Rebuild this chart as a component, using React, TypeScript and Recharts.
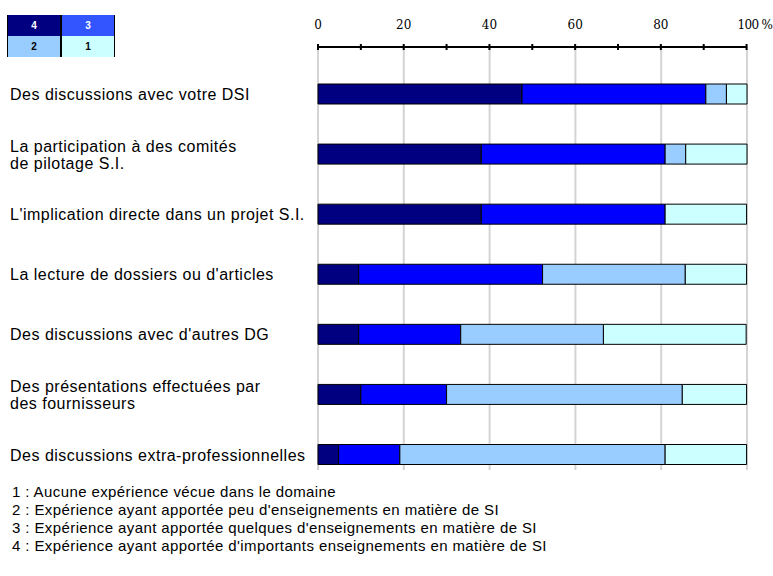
import React from "react";
import { BarChart, Bar, XAxis, YAxis, CartesianGrid, Legend } from "recharts";

// Sources d'expérience en matière de SI (% des répondants)
const categories = [
  "Des discussions avec votre DSI",
  "La participation à des comités\nde pilotage S.I.",
  "L'implication directe dans un projet S.I.",
  "La lecture de dossiers ou d'articles",
  "Des discussions avec d'autres DG",
  "Des présentations effectuées par\ndes fournisseurs",
  "Des discussions extra-professionnelles",
];

const niveau4 = [47.6, 38.1, 38.1, 9.5, 9.5, 10, 4.8];
const niveau3 = [42.9, 42.9, 42.9, 42.9, 23.8, 20, 14.3];
const niveau2 = [4.8, 4.8, 0, 33.3, 33.3, 55, 61.9];
const niveau1 = [4.8, 14.3, 19.0, 14.3, 33.3, 15, 19.0];

const axisTicks = [0, 10, 20, 30, 40, 50, 60, 70, 80, 90, 100];
const gridTicks = [0, 20, 40, 60, 80, 100];
const X_MAX = 100;

const notes = [
  "1 : Aucune expérience vécue dans le domaine",
  "2 : Expérience ayant apportée peu d'enseignements en matière de SI",
  "3 : Expérience ayant apportée quelques d'enseignements en matière de SI",
  "4 : Expérience ayant apportée d'importants enseignements en matière de SI",
];

const data = categories.map((categorie, i) => ({
  categorie,
  n4: niveau4[i],
  n3: niveau3[i],
  n2: niveau2[i],
  n1: niveau1[i],
}));

const series = [
  { key: "n4", name: "4", fill: "#000080", swatch: "#000080", ink: "#fff" },
  { key: "n3", name: "3", fill: "#0000ff", swatch: "#3355ff", ink: "#fff" },
  { key: "n2", name: "2", fill: "#99ccff", swatch: "#99ccff", ink: "#000" },
  { key: "n1", name: "1", fill: "#ccffff", swatch: "#ccffff", ink: "#000" },
];

const SANS = "Arial, 'Liberation Sans', sans-serif";
const SERIF = "'DejaVu Serif', serif";

function TopTick(props: any) {
  const { x, y, payload } = props;
  const v = payload.value;
  const showLabel = v % 20 === 0;
  const isLast = v === 100;
  return (
    <g>
      <line x1={x} x2={x} y1={y - 3} y2={y + 3} stroke="#000" strokeWidth={2} />
      {showLabel && (
        <text
          x={isLast ? x - 9 : x}
          y={y - 18}
          textAnchor={isLast ? "start" : "middle"}
          letterSpacing={isLast ? -0.7 : 0}
          fontFamily={SERIF}
          fontSize={12}
          fill="#000"
        >
          {isLast ? "100 %" : v}
        </text>
      )}
    </g>
  );
}

function CategoryTick(props: any) {
  const { x, y, payload } = props;
  const lines = String(payload.value).split("\n");
  const lh = 17;
  const start = y - ((lines.length - 1) * lh) / 2;
  return (
    <text
      x={x - 308}
      y={start}
      textAnchor="start"
      dominantBaseline="central"
      fontFamily={SANS}
      fontSize={16}
      letterSpacing={0.5}
      fill="#000"
    >
      {lines.map((l, i) => (
        <tspan key={i} x={x - 308} y={start + i * lh}>
          {l}
        </tspan>
      ))}
    </text>
  );
}

function LegendGrid() {
  const cell = (s: (typeof series)[number]) => (
    <div
      key={s.key}
      style={{
        width: 52,
        height: 21,
        background: s.swatch,
        color: s.ink,
        fontFamily: SANS,
        fontWeight: "bold",
        fontSize: 10,
        display: "flex",
        alignItems: "center",
        justifyContent: "center",
        borderLeft: "1.5px solid #000",
        borderRight: "1.5px solid #000",
        boxSizing: "content-box",
      }}
    >
      {s.name}
    </div>
  );
  return (
    <div style={{ display: "grid", gridTemplateColumns: "auto auto", width: 106 }}>
      {series.map(cell)}
    </div>
  );
}

// vertical grid only every 20 %, while the axis ticks every 10 %
const gridLines = ({ xAxis, offset }: any) =>
  gridTicks.map((t) =>
    typeof xAxis?.scale === "function"
      ? xAxis.scale(t)
      : offset.left + (offset.width * t) / X_MAX
  );

export default function App() {
  return (
    <div
      style={{
        position: "absolute",
        left: 0,
        top: 0,
        width: 773,
        height: 576,
        overflow: "hidden",
        background: "#fff",
      }}
    >
      <BarChart
        width={773}
        height={576}
        data={data}
        layout="vertical"
        barSize={20}
        margin={{ top: 17, right: 26, bottom: 106, left: 8 }}
        style={{ overflow: "visible" }}
      >
        <CartesianGrid
          horizontal={false}
          stroke="#d4d4d4"
          strokeWidth={2}
          verticalCoordinatesGenerator={gridLines}
        />
        <XAxis
          type="number"
          orientation="top"
          domain={[0, X_MAX]}
          ticks={axisTicks}
          interval={0}
          height={30}
          tickSize={0}
          tickMargin={0}
          tickLine={false}
          axisLine={{ stroke: "#000", strokeWidth: 2 }}
          tick={<TopTick />}
        />
        <YAxis
          type="category"
          dataKey="categorie"
          width={310}
          interval={0}
          tickSize={0}
          tickMargin={0}
          tickLine={false}
          axisLine={false}
          padding={{ top: 17, bottom: -14.6 }}
          tick={<CategoryTick />}
        />
        <Legend
          layout="vertical"
          align="center"
          verticalAlign="middle"
          wrapperStyle={{ left: 7, top: 15, width: 110 }}
          content={() => <LegendGrid />}
        />
        {series.map((s) => (
          <Bar
            key={s.key}
            dataKey={s.key}
            name={s.name}
            stackId="exp"
            fill={s.fill}
            stroke="#000"
            strokeWidth={1}
            isAnimationActive={false}
          />
        ))}
      </BarChart>
      <div
        style={{
          position: "absolute",
          left: 12,
          top: 483,
          fontFamily: SANS,
          fontSize: 15,
          letterSpacing: 0.4,
          lineHeight: "18px",
          color: "#000",
        }}
      >
        {notes.map((n) => (
          <div key={n}>{n}</div>
        ))}
      </div>
    </div>
  );
}
